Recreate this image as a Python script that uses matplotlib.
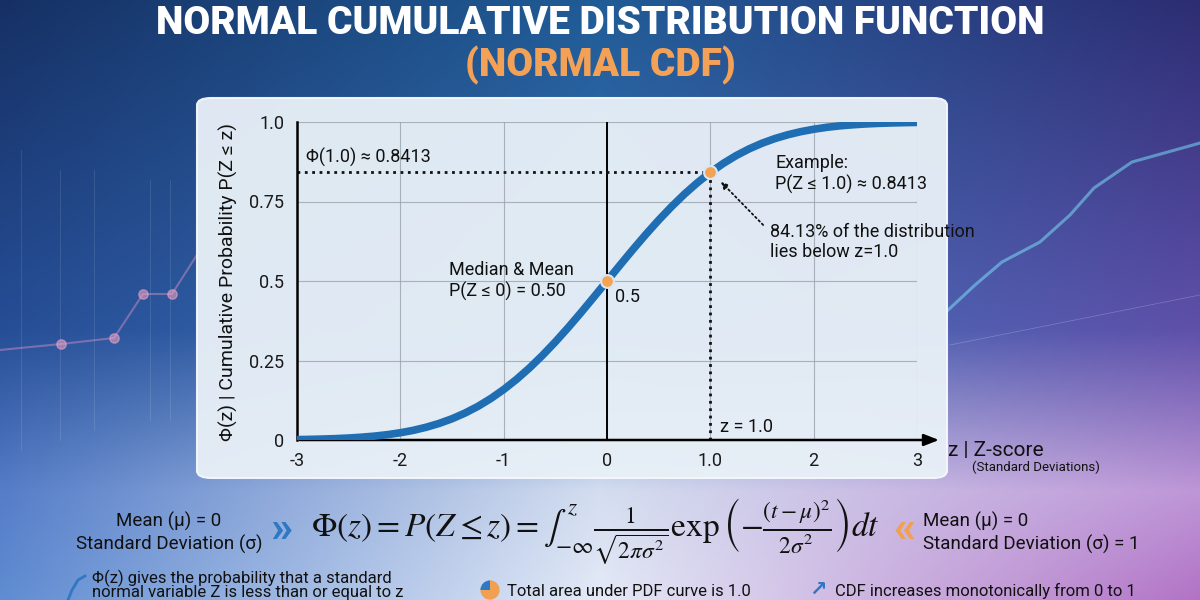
import numpy as np
import matplotlib
matplotlib.use("Agg")
import matplotlib.pyplot as plt
from matplotlib.patches import FancyBboxPatch

plt.rcParams['font.family'] = ['Roboto', 'DejaVu Sans']
plt.rcParams['mathtext.fontset'] = 'stix'

# values (standard normal CDF)
z_vals = [-3.0, -2.875, -2.75, -2.625, -2.5, -2.375, -2.25, -2.125, -2.0,
          -1.875, -1.75, -1.625, -1.5, -1.375, -1.25, -1.125, -1.0,
          -0.875, -0.75, -0.625, -0.5, -0.375, -0.25, -0.125, 0.0,
          0.125, 0.25, 0.375, 0.5, 0.625, 0.75, 0.875, 1.0,
          1.125, 1.25, 1.375, 1.5, 1.625, 1.75, 1.875, 2.0,
          2.125, 2.25, 2.375, 2.5, 2.625, 2.75, 2.875, 3.0]
cdf_vals = [0.0013, 0.0020, 0.0030, 0.0043, 0.0062, 0.0088, 0.0122, 0.0168, 0.0228,
            0.0304, 0.0401, 0.0521, 0.0668, 0.0846, 0.1056, 0.1303, 0.1587,
            0.1908, 0.2266, 0.2660, 0.3085, 0.3538, 0.4013, 0.4503, 0.5000,
            0.5497, 0.5987, 0.6462, 0.6915, 0.7340, 0.7734, 0.8092, 0.8413,
            0.8697, 0.8944, 0.9154, 0.9332, 0.9479, 0.9599, 0.9696, 0.9772,
            0.9832, 0.9878, 0.9912, 0.9938, 0.9957, 0.9970, 0.9980, 0.9987]
x_ticks = [-3, -2, -1, 0, 1, 2, 3]
x_tick_labels = ['-3', '-2', '-1', '0', '1.0', '2', '3']
y_ticks = [0, 0.25, 0.5, 0.75, 1.0]
y_tick_labels = ['0', '0.25', '0.5', '0.75', '1.0']
marked_z = [0.0, 1.0]
marked_p = [0.5, 0.8413]
pie_icon = [75, 25]

W, H = 1200, 600
fig = plt.figure(figsize=(12, 6), dpi=100)


def fx(px):
    return px / W


def fy(py):
    return 1 - py / H


# background gradient
bg = fig.add_axes([0, 0, 1, 1], zorder=-10)
bg.axis('off')
h, w = 300, 600
yy = np.linspace(0, 1, h)
xx = np.linspace(0, 1, w)
rows_y = [0.0, 0.55, 0.82, 1.0]
cols = {
    0.0: [(22, 48, 100), (38, 78, 150), (85, 125, 200), (95, 140, 210)],
    0.5: [(32, 92, 150), (62, 115, 185), (212, 222, 240), (228, 234, 247)],
    1.0: [(45, 45, 115), (95, 80, 170), (190, 150, 215), (178, 115, 198)],
}
img = np.zeros((h, w, 3))
for c in range(3):
    col_imgs = np.array([np.interp(yy, rows_y, [p[c] for p in cols[k]])
                         for k in [0.0, 0.5, 1.0]])
    for i in range(h):
        img[i, :, c] = np.interp(xx, [0.0, 0.5, 1.0], col_imgs[:, i])
img = np.clip(img / 255.0, 0, 1)
bg.imshow(img, extent=[0, 1, 0, 1], aspect='auto', origin='upper')
bg.set_xlim(0, 1)
bg.set_ylim(0, 1)

# faint decorative lines (background only)
deco_px = [(0, 350), (61, 344), (114, 338), (143, 294), (172, 294), (200, 250)]
bg.plot([fx(p[0]) for p in deco_px], [fy(p[1]) for p in deco_px],
        color='#f29ac8', lw=1.5, alpha=0.4)
bg.scatter([fx(p[0]) for p in deco_px[1:5]], [fy(p[1]) for p in deco_px[1:5]],
           s=45, color='#f6a6c8', alpha=0.55, zorder=3)
for xg, y0, y1 in [(21, 150, 450), (60, 170, 440), (94, 170, 430), (150, 180, 420),
                   (170, 180, 420)]:
    bg.plot([fx(xg), fx(xg)], [fy(y0), fy(y1)], color='white', lw=0.6, alpha=0.12)
cyan_px = [(946, 312), (975, 285), (1002, 262), (1040, 242), (1070, 215), (1094, 188),
           (1132, 162), (1193, 145), (1200, 143)]
bg.plot([fx(p[0]) for p in cyan_px], [fy(p[1]) for p in cyan_px],
        color='#7fe8ff', lw=2.2, alpha=0.5)
bg.plot([fx(950), fx(1200)], [fy(345), fy(295)], color='white', lw=0.6, alpha=0.2)

# chart panel
panel = FancyBboxPatch((fx(197), fy(478)), 750 / W, 380 / H,
                       boxstyle='round,pad=0,rounding_size=0.012',
                       transform=fig.transFigure, facecolor='#e8f0f7',
                       edgecolor='#f4f7fb', lw=1.5, alpha=0.96, zorder=-5)
fig.patches.append(panel)

# title
fig.text(0.5, fy(23), 'NORMAL CUMULATIVE DISTRIBUTION FUNCTION', ha='center',
         va='center', color='white', fontsize=28, fontweight='black')
fig.text(0.5, fy(65), '(NORMAL CDF)', ha='center', va='center',
         color='#f4a158', fontsize=28, fontweight='black')

ax = fig.add_axes([fx(297), fy(440), 620 / W, 318 / H])
ax.patch.set_alpha(0)
ax.set_xlim(-3, 3)
ax.set_ylim(0, 1)
ax.set_xticks(x_ticks)
ax.set_xticklabels(x_tick_labels)
ax.set_yticks(y_ticks)
ax.set_yticklabels(y_tick_labels)
ax.tick_params(length=0, labelsize=13, colors='#1a1a1a', pad=9)
ax.grid(color='#9aa3ab', lw=0.8, alpha=0.8)
for s in ['top', 'right']:
    ax.spines[s].set_visible(False)
ax.spines['left'].set_linewidth(1.8)
ax.spines['bottom'].set_visible(False)
ax.annotate('', xy=(3.24, 0), xytext=(-3, 0), annotation_clip=False,
            arrowprops=dict(arrowstyle='-|>,head_length=0.9,head_width=0.35',
                            color='black', lw=1.8))
ax.axvline(0, color='black', lw=1.4)

# guide lines
ax.plot([-3, marked_z[1]], [marked_p[1], marked_p[1]], ls=':', color='#111', lw=2)
ax.plot([marked_z[1], marked_z[1]], [0, marked_p[1]], ls=':', color='#111', lw=2)

ax.plot(z_vals, cdf_vals, color='#1f6db3', lw=5.5, solid_capstyle='butt',
        solid_joinstyle='round', zorder=4)
ax.scatter(marked_z, marked_p, s=85, color='#f3a352', edgecolor='#d8e6f2', lw=1.5,
           zorder=5)

fs = 13
ax.text(-2.91, 0.89, 'Φ(1.0) ≈ 0.8413', fontsize=fs, va='center', color='#111')
ax.text(-1.53, 0.5, 'Median & Mean\nP(Z ≤ 0) = 0.50', fontsize=fs, va='center',
        color='#111', linespacing=1.15)
ax.text(0.08, 0.45, '0.5', fontsize=fs, va='center', color='#111')
ax.text(1.63, 0.836, 'Example:\nP(Z ≤ 1.0) ≈ 0.8413', fontsize=fs, va='center',
        color='#111', linespacing=1.15)
ax.text(1.58, 0.623, '84.13% of the distribution\nlies below z=1.0', fontsize=fs,
        va='center', color='#111', linespacing=1.15)
ax.annotate('', xy=(1.084, 0.818), xytext=(1.53, 0.67),
            arrowprops=dict(arrowstyle='-|>', ls=':', color='#111', lw=1.3))
ax.text(1.09, 0.041, 'z = 1.0', fontsize=fs, va='center', color='#111')

fig.text(fx(228), fy(282), 'Φ(z) | Cumulative Probability P(Z ≤ z)',
         rotation=90, ha='center', va='center', fontsize=14, color='#111')
fig.text(fx(948), fy(451), 'z | Z-score', fontsize=15, va='center', color='#111')
fig.text(fx(972), fy(467), '(Standard Deviations)', fontsize=9.5,
         va='center', color='#111')

# formula row
fig.text(fx(262), fy(533), 'Mean (μ) = 0\nStandard Deviation (σ)',
         ha='right', va='center', fontsize=13.5, color='#111', linespacing=1.3,
         multialignment='center', fontstretch='condensed')
fig.text(fx(281), fy(530), '»', ha='center', va='center', fontsize=32,
         color='#2f78c4', fontweight='bold')
fig.text(fx(904), fy(530), '«', ha='center', va='center', fontsize=32,
         color='#f0a050', fontweight='bold')
fig.text(fx(923), fy(533), 'Mean (μ) = 0\nStandard Deviation (σ) = 1',
         ha='left', va='center', fontsize=13.5, color='#111', linespacing=1.3)
fig.text(fx(595), fy(531),
         r'$\Phi(z) = P(Z \leq z) = \int_{-\infty}^{z} \frac{1}{\sqrt{2\pi\sigma^2}}'
         r'\exp\left(-\frac{(t-\mu)^2}{2\sigma^2}\right) dt$',
         ha='center', va='center', fontsize=24, color='#111')

# bottom notes with small icons
bg.plot([fx(68), fx(72), fx(78), fx(85)], [fy(600), fy(590), fy(580), fy(576)],
        color='#2f78c4', lw=2)
icon = fig.add_axes([fx(478), fy(602), 24 / W, 24 / H])
icon.pie(pie_icon, colors=['#f0a050', '#2f78c4'], startangle=90, counterclock=False)
icon.set_aspect('equal')
fig.text(fx(818), fy(590), '↗', fontsize=15, va='center', ha='center', color='#2f78c4',
         fontweight='bold')
fig.text(fx(92), fy(578), 'Φ(z) gives the probability that a standard',
         fontsize=12, va='center', color='#111')
fig.text(fx(92), fy(592), 'normal variable Z is less than or equal to z',
         fontsize=12, va='center', color='#111')
fig.text(fx(507), fy(591), 'Total area under PDF curve is 1.0',
         fontsize=12, va='center', color='#111')
fig.text(fx(835), fy(591), 'CDF increases monotonically from 0 to 1',
         fontsize=12, va='center', color='#111')

fig.savefig('out.png', dpi=100)
